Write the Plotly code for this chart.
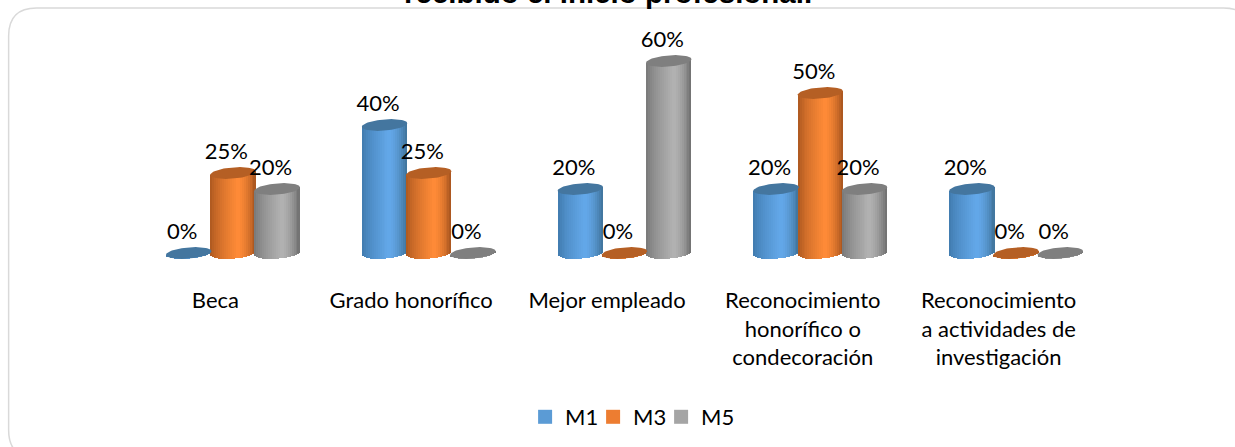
import math
import plotly.graph_objects as go

categories = ["Beca", "Grado honorífico", "Mejor empleado",
              "Reconocimiento<br>honorífico o<br>condecoración",
              "Reconocimiento<br>a actividades de<br>investigación"]
series_names = ["M1", "M3", "M5"]
m1_values = [0, 40, 20, 20, 20]
m3_values = [25, 25, 0, 50, 0]
m5_values = [20, 0, 60, 20, 0]
title_text = "recibido el inicio profesional."

all_values = [m1_values, m3_values, m5_values]
swatch = ["#5B9BD5", "#ED7D31", "#A5A5A5"]
cap = ["#44769F", "#B55F24", "#7F7F7F"]
edge_l = ["#3E78AB", "#A9561F", "#757575"]
edge_r = ["#3F7299", "#A5531E", "#6E6E6E"]
bright = ["#63A8E9", "#FF8B37", "#B2B2B2"]

W, H = 1235, 447
L, R, T, B = 134.5, 120.5, 29, 162
PX_X = (W - L - R) / 5          # pixels per category
PX_Y = 3.2                      # pixels per percent
BAR_W = 45.5 / PX_X
STEP = 44.25 / PX_X
ELL_H = 5.6 / PX_Y
TILT = 1.8 / PX_Y
N = 23


def hex2rgb(c):
    return tuple(int(c[i:i + 2], 16) for i in (1, 3, 5))


def mix(a, b, t):
    a, b = hex2rgb(a), hex2rgb(b)
    return "rgb(%d,%d,%d)" % tuple(round(a[i] + (b[i] - a[i]) * t) for i in range(3))


def strip_colour(s, t):
    peak = 0.6
    if t < peak:
        k = t / peak
        return mix(edge_l[s], bright[s], k ** 0.7)
    k = (t - peak) / (1 - peak)
    return mix(bright[s], edge_r[s], k ** 1.6)


def to_paper(px, py):
    return (px - L) / (W - L - R), 1 - (py - T) / (H - T - B)


fig = go.Figure()
for s, values in enumerate(all_values):
    off = (s - 1) * STEP
    for i in range(N):
        t = (i + 0.5) / N
        u = 2 * t - 1
        bottom = -ELL_H * math.sqrt(max(0, 1 - u * u)) + TILT * u
        fig.add_trace(go.Bar(
            x=list(range(5)),
            y=[v + TILT * u - bottom for v in values],
            base=[bottom] * 5,
            offset=off - BAR_W / 2 + BAR_W * i / N,
            width=BAR_W / N * 1.4 if i < N - 1 else BAR_W / N,
            marker=dict(color=strip_colour(s, t), line=dict(width=0)),
            showlegend=False, hoverinfo="skip",
        ))

for s, values in enumerate(all_values):
    off = (s - 1) * STEP
    for c, v in enumerate(values):
        xs, ys = [], []
        for k in range(61):
            a = 2 * math.pi * k / 60
            u = math.cos(a)
            xs.append(c + off + BAR_W / 2 * u)
            ys.append(v + ELL_H * math.sin(a) + TILT * u)
        fig.add_trace(go.Scatter(x=xs, y=ys, mode="lines", fill="toself",
                                 fillcolor=cap[s], line=dict(width=0),
                                 showlegend=False, hoverinfo="skip"))

for s, values in enumerate(all_values):
    off = (s - 1) * STEP
    fig.add_trace(go.Scatter(
        x=[c + off - 6.5 / PX_X for c in range(5)],
        y=[v + 20 / PX_Y for v in values],
        mode="text", text=["%d%%" % v for v in values],
        textposition="middle center",
        textfont=dict(family="Lato", size=22, color="#000000"),
        showlegend=False, hoverinfo="skip", cliponaxis=False,
    ))

for s, name in enumerate(series_names):
    fig.add_trace(go.Scatter(x=[None], y=[None], mode="markers", name=name,
                             marker=dict(symbol="square", size=14, color=swatch[s])))
# blank entry: gives the last legend label room inside the legend box
fig.add_trace(go.Scatter(x=[None], y=[None], mode="markers", name=" ",
                         marker=dict(symbol="square", size=14, color="#FFFFFF")))

r = 28
x0, y0, x1, y1 = 8, 8, 1252, 458
pts = [(x0 + r, y0), (x1 - r, y0), (x1, y0), (x1, y0 + r), (x1, y1 - r), (x1, y1),
       (x1 - r, y1), (x0 + r, y1), (x0, y1), (x0, y1 - r), (x0, y0 + r), (x0, y0), (x0 + r, y0)]
p = [to_paper(*q) for q in pts]
path = (f"M{p[0][0]},{p[0][1]} L{p[1][0]},{p[1][1]} Q{p[2][0]},{p[2][1]} {p[3][0]},{p[3][1]} "
        f"L{p[4][0]},{p[4][1]} Q{p[5][0]},{p[5][1]} {p[6][0]},{p[6][1]} L{p[7][0]},{p[7][1]} "
        f"Q{p[8][0]},{p[8][1]} {p[9][0]},{p[9][1]} L{p[10][0]},{p[10][1]} "
        f"Q{p[11][0]},{p[11][1]} {p[12][0]},{p[12][1]} Z")

fig.update_layout(
    width=W, height=H, autosize=False,
    margin=dict(l=L, r=R, t=T, b=B, pad=0, autoexpand=False),
    paper_bgcolor="#FFFFFF", plot_bgcolor="rgba(0,0,0,0)",
    barmode="overlay", bargap=0,
    font=dict(family="Lato", size=22, color="#000000"),
    shapes=[dict(type="path", xref="paper", yref="paper", path=path,
                 line=dict(color="#D9D9D9", width=1.5), layer="below")],
    annotations=[dict(text=title_text, xref="paper", yref="paper", x=(608 - L) / (W - L - R),
                      y=to_paper(0, 3)[1], xanchor="center", yanchor="bottom", yshift=-8,
                      showarrow=False,
                      font=dict(family="Liberation Sans", size=29.5, color="#000000", weight="bold"))],
    xaxis=dict(range=[-0.5, 4.5], tickmode="array",
               tickvals=[c - 17.5 / PX_X for c in range(5)], ticktext=categories,
               showgrid=False, zeroline=False, showline=False, ticks="", tickangle=0,
               tickfont=dict(family="Lato", size=22, color="#000000"), automargin=False),
    yaxis=dict(range=[-10, 70], visible=False, fixedrange=True),
    showlegend=True,
    legend=dict(orientation="h", xref="paper", yref="paper", x=to_paper(525, 0)[0],
                xanchor="left", y=to_paper(0, 417)[1], yanchor="middle",
                font=dict(family="Lato", size=22, color="#000000"),
                itemsizing="trace", traceorder="normal", bgcolor="rgba(0,0,0,0)",
                entrywidth=23, entrywidthmode="pixels", itemclick=False, itemdoubleclick=False),
)

fig.write_html("out.html", config={"displayModeBar": False},
               post_script="document.body.style.margin='0';")
